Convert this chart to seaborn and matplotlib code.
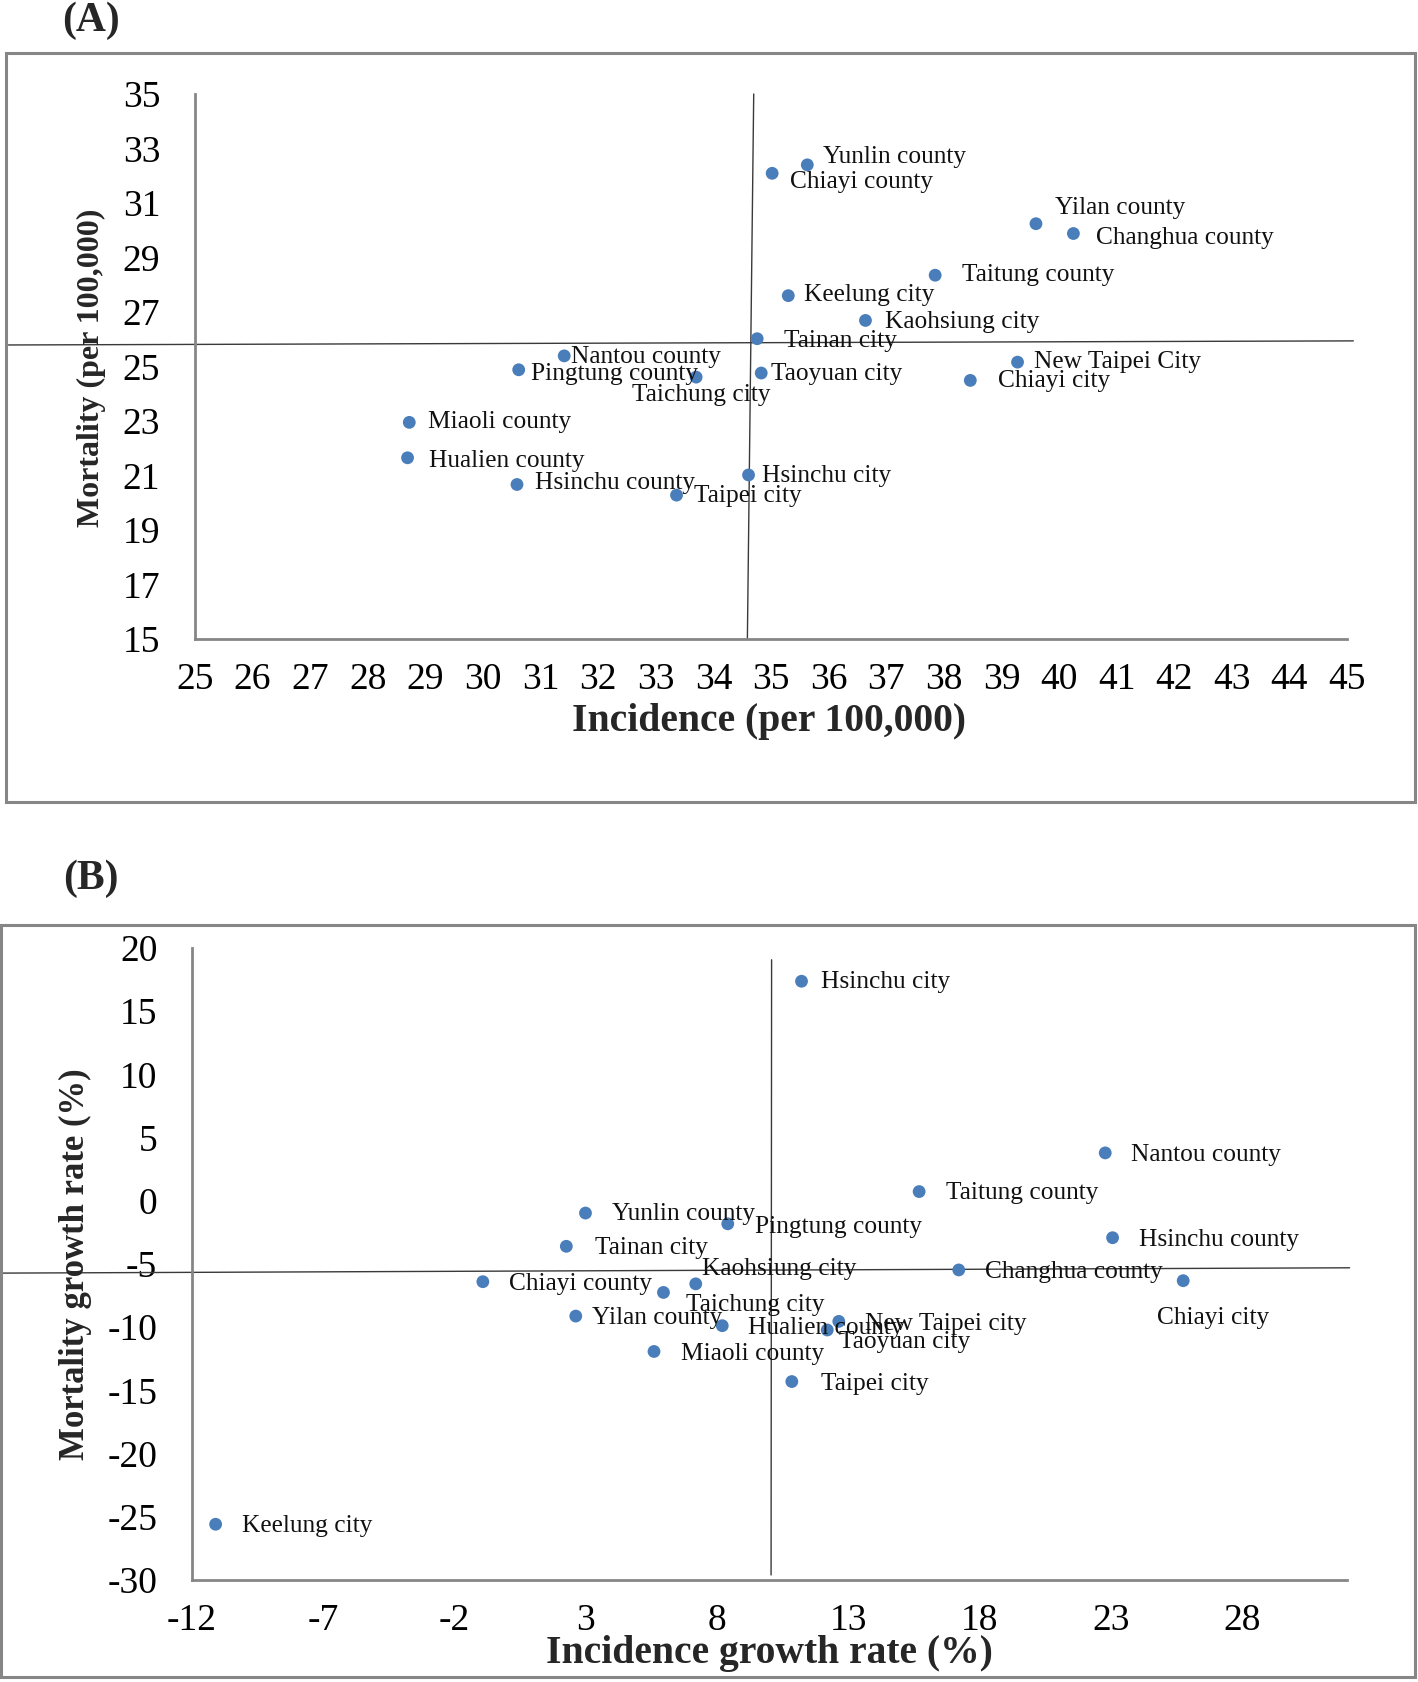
import numpy as np
import pandas as pd
import matplotlib
matplotlib.use('Agg')
import matplotlib.pyplot as plt
from matplotlib.patches import Rectangle
import seaborn as sns

# ---- data: panel A (levels) ----
regions_a = ['Yunlin county', 'Chiayi county', 'Yilan county', 'Changhua county', 'Taitung county',
             'Keelung city', 'Kaohsiung city', 'Tainan city', 'Nantou county', 'Pingtung county',
             'Taichung city', 'Taoyuan city', 'New Taipei City', 'Chiayi city', 'Miaoli county',
             'Hualien county', 'Hsinchu county', 'Hsinchu city', 'Taipei city']
incidence_a = [35.63, 35.02, 39.60, 40.25, 37.85, 35.30, 36.64, 34.76, 31.41, 30.62,
               33.70, 34.83, 39.28, 38.46, 28.72, 28.69, 30.59, 34.61, 33.36]
mortality_a = [32.40, 32.09, 30.24, 29.88, 28.35, 27.60, 26.69, 26.02, 25.39, 24.88,
               24.61, 24.76, 25.16, 24.49, 22.95, 21.65, 20.67, 21.02, 20.28]

# ---- data: panel B (growth rates) ----
regions_b = ['Hsinchu city', 'Nantou county', 'Taitung county', 'Yunlin county', 'Pingtung county',
             'Hsinchu county', 'Tainan city', 'Changhua county', 'Chiayi city', 'Chiayi county',
             'Kaohsiung city', 'Taichung city', 'Yilan county', 'New Taipei city', 'Hualien county',
             'Taoyuan city', 'Miaoli county', 'Taipei city', 'Keelung city']
incidence_b = [11.22, 22.79, 15.70, 2.99, 8.41, 23.07, 2.26, 17.21, 25.76, -0.92,
               7.19, 5.96, 2.62, 12.64, 8.20, 12.20, 5.60, 10.85, -11.10]
mortality_b = [17.37, 3.79, 0.73, -0.97, -1.82, -2.92, -3.60, -5.47, -6.32, -6.40,
               -6.57, -7.25, -9.12, -9.54, -9.88, -10.22, -11.92, -14.30, -25.59]

# quadrant reference lines (mean values, slightly tilted as in original)
vline_a = ([34.70, 34.59], [35, 15])
hline_a = ([21.76, 45.11], [25.79, 25.94])
vline_b = ([10.08, 10.06], [19.07, -29.6])
hline_b = ([-19.2, 32.1], [-5.72, -5.30])

# label offsets in pixels (dx, dy) relative to each point
off_a = {'Yunlin county': (15, -7), 'Chiayi county': (17, 8), 'Yilan county': (18, -15),
         'Changhua county': (21, 4), 'Taitung county': (25, 0), 'Keelung city': (15, -1),
         'Kaohsiung city': (18, 1), 'Tainan city': (25, 2), 'Nantou county': (6, 1),
         'Pingtung county': (11, 4), 'Taichung city': (-60, 17), 'Taoyuan city': (9, 1),
         'New Taipei City': (15, 0), 'Chiayi city': (26, 1), 'Miaoli county': (17, 0),
         'Hualien county': (20, 3), 'Hsinchu county': (17, -1), 'Hsinchu city': (13, 1),
         'Taipei city': (16, 1)}
off_b = {'Hsinchu city': (18, 1), 'Nantou county': (24, 2), 'Taitung county': (25, 1),
         'Yunlin county': (25, 1), 'Pingtung county': (25, 3), 'Hsinchu county': (25, 2),
         'Tainan city': (27, 2), 'Changhua county': (24, 2), 'Chiayi city': (-24, 35),
         'Chiayi county': (24, 2), 'Kaohsiung city': (6, -14), 'Taichung city': (21, 12),
         'Yilan county': (15, 2), 'New Taipei city': (24, 2), 'Hualien county': (24, 2),
         'Taoyuan city': (11, 11), 'Miaoli county': (25, 2), 'Taipei city': (27, 2),
         'Keelung city': (25, 2)}

df_a = pd.DataFrame({'region': regions_a, 'inc': incidence_a, 'mort': mortality_a})
df_b = pd.DataFrame({'region': regions_b, 'inc': incidence_b, 'mort': mortality_b})

sns.set_style('white')
plt.rcParams['font.family'] = ['Liberation Serif', 'DejaVu Serif']
plt.rcParams['axes.unicode_minus'] = False

W, H = 1418, 1682
fig = plt.figure(figsize=(W / 100, H / 100), dpi=100)

BLUE = '#4A7EBB'
AXC = '#868686'
SC = 1.0726


def px(x0, y0, x1, y1):
    return [x0 / W, 1 - y1 / H, (x1 - x0) / W, (y1 - y0) / H]


def panel(rect, df, offs, vline, hline, xlim, xticks, ylim, yticks):
    ax = fig.add_axes(rect)
    sns.scatterplot(data=df, x='inc', y='mort', ax=ax, color=BLUE, s=85,
                    edgecolor='none', zorder=5, legend=False)
    ax.plot(vline[0], vline[1], color='#3a3a3a', lw=1.0, clip_on=False, zorder=2)
    ax.plot(hline[0], hline[1], color='#3a3a3a', lw=1.0, clip_on=False, zorder=2)
    for _, r in df.iterrows():
        dx, dy = offs[r['region']]
        ax.annotate(r['region'], (r['inc'], r['mort']), xytext=(dx * SC, -dy * SC),
                    textcoords='offset pixels', ha='left', va='center',
                    fontsize=18.3, color='#111111', zorder=6, annotation_clip=False)
    ax.set_xlim(*xlim)
    ax.set_ylim(*ylim)
    ax.set_xticks(xticks)
    ax.set_yticks(yticks)
    ax.set_xlabel('')
    ax.set_ylabel('')
    for s in ['top', 'right']:
        ax.spines[s].set_visible(False)
    for s in ['left', 'bottom']:
        ax.spines[s].set_color(AXC)
        ax.spines[s].set_linewidth(2.0)
    ax.tick_params(axis='both', direction='out', width=2.0, color=AXC,
                   labelsize=27, labelcolor='black')
    ax.tick_params(axis='y', length=9, pad=16)
    ax.tick_params(axis='x', length=7, pad=10)
    return ax


# Panel A
fig.add_artist(Rectangle((6 / W, 1 - 802 / H), (1415 - 6) / W, (802 - 53) / H,
                         transform=fig.transFigure, fill=False, edgecolor=AXC, lw=2.2))
panel(px(195, 94, 1347, 639), df_a, off_a, vline_a, hline_a,
      (25, 45), np.arange(25, 46, 1), (15, 35), np.arange(15, 36, 2))
fig.text(91 / W, 1 - 31 / H, '(A)', fontsize=30, fontweight='bold', ha='center', va='baseline')
fig.text(769 / W, 1 - 722 / H, 'Incidence (per 100,000)', fontsize=28.5, fontweight='bold',
         ha='center', va='center')
fig.text(91 / W, 1 - 368 / H, 'Mortality (per 100,000)', fontsize=23, fontweight='bold',
         ha='center', va='center', rotation=90)

# Panel B
fig.add_artist(Rectangle((1 / W, 1 - 1677 / H), (1415 - 1) / W, (1677 - 925) / H,
                         transform=fig.transFigure, fill=False, edgecolor=AXC, lw=2.2))
panel(px(192, 948, 1347, 1580), df_b, off_b, vline_b, hline_b,
      (-12, 32), np.arange(-12, 29, 5), (-30, 20), np.arange(-30, 21, 5))
fig.text(91 / W, 1 - 889 / H, '(B)', fontsize=30, fontweight='bold', ha='center', va='baseline')
fig.text(769 / W, 1 - 1653 / H, 'Incidence growth rate (%)', fontsize=28.5, fontweight='bold',
         ha='center', va='center')
fig.text(75 / W, 1 - 1264 / H, 'Mortality growth rate (%)', fontsize=25, fontweight='bold',
         ha='center', va='center', rotation=90)

fig.savefig('out.png', dpi=100, facecolor='white')
plt.close()
